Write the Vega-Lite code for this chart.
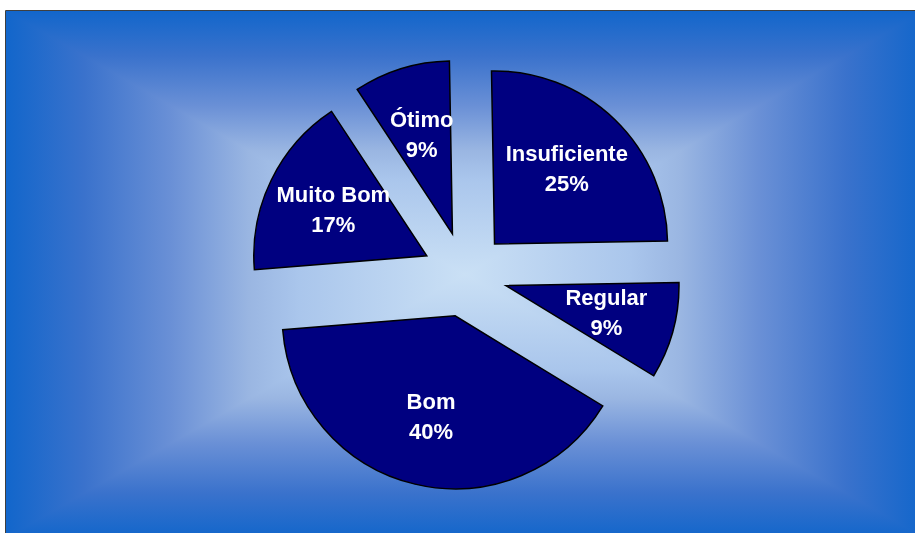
{
  "$schema": "https://vega.github.io/schema/vega-lite/v6.json",
  "width": 918,
  "height": 527,
  "autosize": {"type": "none"},
  "padding": {"left": 6, "top": 11, "right": -9, "bottom": -5},
  "background": "white",
  "config": {"view": {"stroke": "black", "strokeWidth": 1.5}},
  "datasets": {
    "slices": [
      {"name": "Insuficiente", "p": 0.25, "i": 1},
      {"name": "Regular", "p": 0.09, "i": 2},
      {"name": "Bom", "p": 0.40, "i": 3},
      {"name": "Muito Bom", "p": 0.17, "i": 4},
      {"name": "Ótimo", "p": 0.09, "i": 5}
    ]
  },
  "layer": [
    {
      "data": {"values": [{}]},
      "mark": {
        "type": "rect",
        "fill": {
          "gradient": "linear", "x1": 0, "y1": 0, "x2": 1, "y2": 0,
          "stops": [
            {"offset": 0, "color": "#1266cb"},
            {"offset": 0.085, "color": "#3a72cc"},
            {"offset": 0.18, "color": "#6a90d6"},
            {"offset": 0.265, "color": "#9ab6e2"},
            {"offset": 0.32, "color": "#aac6ec"},
            {"offset": 0.5, "color": "#cae0f5"},
            {"offset": 0.68, "color": "#aac6ec"},
            {"offset": 0.735, "color": "#9ab6e2"},
            {"offset": 0.82, "color": "#6a90d6"},
            {"offset": 0.915, "color": "#3a72cc"},
            {"offset": 1, "color": "#1266cb"}
          ]
        }
      },
      "encoding": {
        "x": {"value": 0}, "x2": {"value": "width"},
        "y": {"value": 0}, "y2": {"value": "height"}
      }
    },
    {
      "data": {"values": [{}]},
      "mark": {
        "type": "rect",
        "blend": "darken",
        "fill": {
          "gradient": "linear", "x1": 0, "y1": 0, "x2": 0, "y2": 1,
          "stops": [
            {"offset": 0, "color": "#1266cb"},
            {"offset": 0.085, "color": "#3a72cc"},
            {"offset": 0.18, "color": "#6a90d6"},
            {"offset": 0.265, "color": "#9ab6e2"},
            {"offset": 0.32, "color": "#aac6ec"},
            {"offset": 0.5, "color": "#cae0f5"},
            {"offset": 0.68, "color": "#aac6ec"},
            {"offset": 0.735, "color": "#9ab6e2"},
            {"offset": 0.82, "color": "#6a90d6"},
            {"offset": 0.915, "color": "#3a72cc"},
            {"offset": 1, "color": "#1266cb"}
          ]
        }
      },
      "encoding": {
        "x": {"value": 0}, "x2": {"value": "width"},
        "y": {"value": 0}, "y2": {"value": "height"}
      }
    },
    {
      "data": {"name": "slices"},
      "mark": {"type": "arc", "radius": 173, "fill": "#000080", "stroke": "black", "strokeWidth": 1.5},
      "encoding": {
        "theta": {"field": "p", "type": "quantitative", "stack": true, "scale": {"range": [-0.01745, 6.26573]}},
        "order": {"field": "i", "type": "quantitative"},
        "detail": {"field": "name", "type": "nominal"},
        "x": {"value": {"expr": "width/2 + 42.5*sin(scale('theta', (datum.p_start + datum.p_end)/2))"}},
        "y": {"value": {"expr": "height/2 - 42.5*cos(scale('theta', (datum.p_start + datum.p_end)/2))"}}
      }
    },
    {
      "data": {"name": "slices"},
      "mark": {"type": "text", "radius": 104, "dy": -15, "fill": "white", "font": "Liberation Sans", "fontWeight": "bold", "fontSize": 22, "align": "center", "baseline": "middle"},
      "encoding": {
        "theta": {"field": "p", "type": "quantitative", "stack": true, "scale": {"range": [-0.01745, 6.26573]}},
        "order": {"field": "i", "type": "quantitative"},
        "detail": {"field": "name", "type": "nominal"},
        "text": {"field": "name", "type": "nominal"},
        "x": {"value": {"expr": "width/2 + 42.5*sin(scale('theta', (datum.p_start + datum.p_end)/2))"}},
        "y": {"value": {"expr": "height/2 - 42.5*cos(scale('theta', (datum.p_start + datum.p_end)/2))"}}
      }
    },
    {
      "data": {"name": "slices"},
      "mark": {"type": "text", "radius": 104, "dy": 15, "fill": "white", "font": "Liberation Sans", "fontWeight": "bold", "fontSize": 22, "align": "center", "baseline": "middle"},
      "encoding": {
        "theta": {"field": "p", "type": "quantitative", "stack": true, "scale": {"range": [-0.01745, 6.26573]}},
        "order": {"field": "i", "type": "quantitative"},
        "detail": {"field": "name", "type": "nominal"},
        "text": {"field": "p", "type": "quantitative", "format": ".0%"},
        "x": {"value": {"expr": "width/2 + 42.5*sin(scale('theta', (datum.p_start + datum.p_end)/2))"}},
        "y": {"value": {"expr": "height/2 - 42.5*cos(scale('theta', (datum.p_start + datum.p_end)/2))"}}
      }
    }
  ]
}
